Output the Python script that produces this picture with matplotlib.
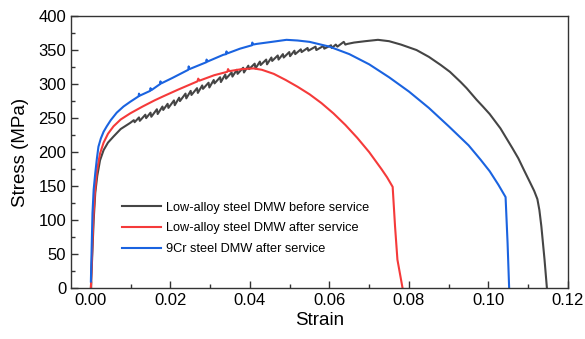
import matplotlib
matplotlib.use("Agg")
import matplotlib.pyplot as plt
from matplotlib.ticker import MultipleLocator

plt.rcParams['font.family'] = ['Liberation Sans', 'DejaVu Sans']

labels = ["Low-alloy steel DMW before service",
          "Low-alloy steel DMW after service",
          "9Cr steel DMW after service"]
colors = ["#454545", "#f53a3a", "#1a63e0"]

strain_before = [0, 0.0003, 0.0007, 0.0011, 0.0016, 0.0023, 0.0032, 0.0043, 0.0057, 0.0075,
                 0.0099, 0.0108, 0.0110, 0.0121, 0.0123, 0.0137, 0.0139, 0.0150, 0.0152, 0.0166,
                 0.0168, 0.0180, 0.0182, 0.0193, 0.0195, 0.0209, 0.0211, 0.0222, 0.0224, 0.0238,
                 0.0240, 0.0251, 0.0253, 0.0267, 0.0269, 0.0280, 0.0282, 0.0296, 0.0298, 0.0309,
                 0.0311, 0.0325, 0.0327, 0.0338, 0.0340, 0.0354, 0.0356, 0.0367, 0.0369, 0.0383,
                 0.0385, 0.0396, 0.0398, 0.0412, 0.0414, 0.0425, 0.0427, 0.0441, 0.0443, 0.0454,
                 0.0456, 0.0470, 0.0472, 0.0483, 0.0485, 0.0499, 0.0501, 0.0512, 0.0514, 0.0528,
                 0.0530, 0.0545, 0.0547, 0.0565, 0.0567, 0.0585, 0.0587, 0.0604, 0.0606, 0.0616,
                 0.0620, 0.0636, 0.0640, 0.0645, 0.0662, 0.0690, 0.0722, 0.0750, 0.0780, 0.0819,
                 0.0850, 0.0880, 0.0903, 0.0930, 0.0945, 0.0970, 0.0986, 0.1003, 0.1030, 0.1060,
                 0.1075, 0.1089, 0.1105, 0.1115, 0.1123, 0.1128, 0.1133, 0.1141, 0.1147]
stress_before = [0, 42, 100, 140, 165, 188, 203, 214, 223, 234,
                 243, 247, 244, 251, 246, 255, 250, 258, 252, 263,
                 256, 267, 262, 271, 265, 276, 269, 280, 275, 286,
                 279, 290, 284, 294, 287, 298, 293, 302, 295, 306,
                 301, 310, 303, 314, 308, 317, 311, 321, 315, 324,
                 317, 327, 322, 330, 323, 333, 328, 336, 329, 339,
                 334, 342, 336, 344, 339, 347, 341, 349, 344, 351,
                 347, 353, 349, 355, 350, 356, 352, 357, 353, 358,
                 355, 362, 358, 359, 361, 363, 365, 363, 358, 350,
                 340, 328, 318, 303, 294, 277, 267, 256, 235, 206,
                 191, 174, 155, 143, 131, 115, 91, 42, 0]

strain_after = [0, 0.0003, 0.0006, 0.0010, 0.0015, 0.0023, 0.0032, 0.0043, 0.0057, 0.0075,
                0.0099, 0.0130, 0.0160, 0.0182, 0.0220, 0.0268, 0.0270, 0.0273, 0.0310, 0.0343,
                0.0345, 0.0348, 0.0380, 0.0409, 0.0430, 0.0460, 0.0490, 0.0520, 0.0550, 0.0580,
                0.0610, 0.0640, 0.0670, 0.0700, 0.0731, 0.0745, 0.0759, 0.0765, 0.0771, 0.0784]
stress_after = [0, 50, 100, 140, 172, 198, 214, 227, 238, 248,
                257, 267, 276, 282, 292, 304, 308, 305, 313, 318,
                322, 319, 322, 323, 321, 315, 306, 296, 285, 272,
                257, 240, 221, 200, 175, 163, 149, 91, 42, 0]

strain_9cr = [0, 0.0002, 0.0004, 0.0007, 0.0011, 0.0015, 0.0019, 0.0025, 0.0032, 0.0040,
              0.0050, 0.0065, 0.0082, 0.0099, 0.0120, 0.0121, 0.0123, 0.0149, 0.0150, 0.0152,
              0.0174, 0.0175, 0.0177, 0.0205, 0.0245, 0.0246, 0.0248, 0.0290, 0.0291, 0.0293,
              0.0333, 0.0340, 0.0341, 0.0343, 0.0375, 0.0405, 0.0406, 0.0408, 0.0417, 0.0455,
              0.0492, 0.0520, 0.0550, 0.0600, 0.0650, 0.0700, 0.0750, 0.0800, 0.0850, 0.0900,
              0.0950, 0.0980, 0.1003, 0.1025, 0.1043, 0.1048, 0.1052]
stress_9cr = [10, 60, 110, 145, 169, 190, 208, 220, 230, 238,
              247, 258, 267, 274, 282, 286, 283, 290, 294, 291,
              300, 304, 301, 309, 321, 326, 322, 332, 336, 333,
              343, 344, 348, 345, 352, 357, 361, 358, 359, 362,
              365, 364, 362, 355, 344, 329, 310, 289, 265, 238,
              210, 189, 172, 152, 134, 67, 0]

xticks = [0.00, 0.02, 0.04, 0.06, 0.08, 0.10, 0.12]
yticks = [0, 50, 100, 150, 200, 250, 300, 350, 400]

fig = plt.figure(figsize=(5.85, 3.39), dpi=100)
ax = fig.add_axes([71/585, 1-288.3/339, (568-71)/585, (288.3-16)/339])

series = [(strain_before, stress_before), (strain_after, stress_after), (strain_9cr, stress_9cr)]
for (sx, sy), c, lab in zip(series, colors, labels):
    ax.plot(sx, sy, color=c, lw=1.5, label=lab, solid_joinstyle='round')

ax.set_xlim(-0.005, 0.12)
ax.set_ylim(0, 400)
ax.set_xticks(xticks)
ax.set_xticklabels([f"{v:.2f}" for v in xticks])
ax.set_yticks(yticks)
ax.xaxis.set_minor_locator(MultipleLocator(0.01))
ax.yaxis.set_minor_locator(MultipleLocator(25))
ax.tick_params(which='both', direction='in', top=False, right=False, labelsize=12, width=1.0, color='#333333')
ax.tick_params(which='major', length=5)
ax.tick_params(which='minor', length=3)
for s in ax.spines.values():
    s.set_linewidth(1.0)
    s.set_color('#333333')
ax.set_xlabel("Strain", fontsize=13.5, labelpad=3)
ax.set_ylabel("Stress (MPa)", fontsize=13.5, labelpad=7)

ax.legend(loc='upper left', bbox_to_anchor=(0.102, 0.318), frameon=False, fontsize=9.2,
          handlelength=3.1, handletextpad=0.35, labelspacing=0.68, borderpad=0, borderaxespad=0)

fig.savefig("out.png", dpi=100)
